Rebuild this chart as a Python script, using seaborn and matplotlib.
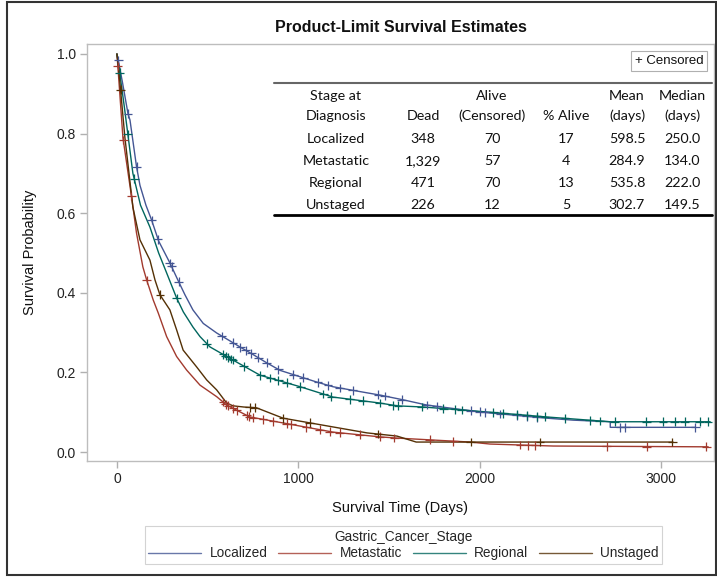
import numpy as np
import pandas as pd
import matplotlib
matplotlib.use("Agg")
import matplotlib.pyplot as plt
import seaborn as sns
from matplotlib.lines import Line2D
from matplotlib.patches import Rectangle

# ---------------- data ----------------
groups = ["Localized", "Metastatic", "Regional", "Unstaged"]
colors = ["#445694", "#A23A2E", "#01665E", "#543005"]

loc_t = [0, 7, 30, 61, 72, 108, 127, 160, 191, 230, 292, 336, 375, 419, 476, 550, 620, 678, 750,
         826, 900, 1010, 1100, 1191, 1300, 1450, 1579, 1708, 1910, 2057, 2370, 2516, 2720, 2720, 3188]
loc_s = [1.0, 0.985, 0.93, 0.85, 0.834, 0.717, 0.67, 0.62, 0.583, 0.53, 0.475, 0.432, 0.395, 0.357,
         0.323, 0.299, 0.28, 0.264, 0.245, 0.224, 0.205, 0.189, 0.176, 0.164, 0.155, 0.143, 0.131,
         0.118, 0.106, 0.098, 0.085, 0.080, 0.076, 0.062, 0.062]

met_t = [0, 5, 33, 81, 108, 143, 164, 200, 228, 274, 329, 384, 458, 550, 605, 733, 916, 1191, 1450,
         1544, 1947, 2057, 2406, 3260]
met_s = [1.0, 0.97, 0.79, 0.64, 0.55, 0.465, 0.432, 0.382, 0.349, 0.29, 0.24, 0.206, 0.168, 0.139,
         0.118, 0.088, 0.073, 0.050, 0.038, 0.035, 0.025, 0.020, 0.015, 0.013]

reg_t = [0, 10, 40, 88, 130, 182, 230, 274, 329, 366, 419, 458, 513, 640, 789, 1010, 1191, 1450,
         1544, 1690, 2057, 2370, 2516, 2720, 3271]
reg_s = [1.0, 0.97, 0.87, 0.70, 0.62, 0.565, 0.50, 0.45, 0.387, 0.352, 0.314, 0.29, 0.264, 0.231,
         0.193, 0.164, 0.138, 0.123, 0.116, 0.113, 0.100, 0.088, 0.083, 0.076, 0.076]

uns_t = [0, 10, 44, 88, 127, 182, 210, 237, 292, 329, 365, 439, 495, 550, 605, 640, 700, 770, 916,
         1191, 1379, 1544, 1650, 3066]
uns_s = [1.0, 0.96, 0.79, 0.615, 0.533, 0.482, 0.432, 0.395, 0.357, 0.307, 0.256, 0.214, 0.181,
         0.156, 0.123, 0.116, 0.113, 0.111, 0.085, 0.063, 0.048, 0.040, 0.025, 0.025]

loc_cens = [7, 61, 108, 191, 227, 292, 301, 340, 577, 640, 680, 710, 740, 780, 826, 890, 972, 1027,
            1109, 1164, 1228, 1301, 1440, 1477, 1570, 1708, 1763, 1950, 2000, 2030, 2112, 2204,
            2259, 2314, 2775, 2802, 3188]
met_cens = [5, 35, 80, 164, 585, 600, 612, 640, 660, 715, 730, 750, 805, 860, 935, 962, 1045, 1118,
            1173, 1228, 1338, 1448, 1530, 1725, 1855, 2222, 2268, 2305, 2700, 2920, 3250]
reg_cens = [15, 60, 95, 329, 495, 585, 600, 612, 630, 640, 700, 790, 845, 890, 936, 1010, 1137,
            1182, 1283, 1356, 1448, 1521, 1550, 1680, 1800, 1864, 1900, 2076, 2130, 2204, 2259,
            2314, 2360, 2470, 2607, 2662, 2745, 2919, 3011, 3075, 3130, 3213, 3259]
uns_cens = [20, 237, 733, 760, 916, 1063, 1440, 1950, 2333, 3063]

dead = ["348", "1,329", "471", "226"]
alive_cens = ["70", "57", "70", "12"]
pct_alive = ["17", "4", "13", "5"]
mean_days = ["598.5", "284.9", "535.8", "302.7"]
median_days = ["250.0", "134.0", "222.0", "149.5"]

x_ticks = [0, 1000, 2000, 3000]
y_ticks = [0.0, 0.2, 0.4, 0.6, 0.8, 1.0]

# ---------------- frames ----------------
curve_data = [(loc_t, loc_s), (met_t, met_s), (reg_t, reg_s), (uns_t, uns_s)]
cens_data = [loc_cens, met_cens, reg_cens, uns_cens]

curves = pd.concat(
    [pd.DataFrame({"time": t, "surv": s, "stage": g}) for g, (t, s) in zip(groups, curve_data)],
    ignore_index=True)
cens = pd.concat(
    [pd.DataFrame({"time": c, "surv": np.interp(c, t, s), "stage": g})
     for g, (t, s), c in zip(groups, curve_data, cens_data)],
    ignore_index=True)
pal = dict(zip(groups, colors))

# ---------------- plot ----------------
sns.set_theme(style="white")
plt.rcParams["font.family"] = ["Liberation Sans", "DejaVu Sans"]

W, H = 717, 577
fig = plt.figure(figsize=(W / 100, H / 100), dpi=100)
ax = fig.add_axes([87 / W, 1 - 461 / H, (714 - 87) / W, (461 - 44) / H])

sns.lineplot(data=curves, x="time", y="surv", hue="stage", palette=pal, estimator=None,
             sort=False, lw=1.0, legend=False, ax=ax)
sns.scatterplot(data=cens, x="time", y="surv", hue="stage", palette=pal, marker="+", s=40,
                linewidth=0.9, legend=False, ax=ax, zorder=3)

ax.set_xlim(-165, 3292)
ax.set_ylim(-0.0226, 1.025)
ax.set_xticks(x_ticks)
ax.set_yticks(y_ticks)
ax.set_xticklabels([str(v) for v in x_ticks])
ax.set_yticklabels([f"{v:.1f}" for v in y_ticks])
ax.set_xlabel("")
ax.set_ylabel("")
for sp in ax.spines.values():
    sp.set_color("#bdbdbd")
    sp.set_linewidth(1.0)
ax.tick_params(bottom=True, left=True, direction="out", length=5, width=1, color="#b0b0b0",
               labelsize=10, labelcolor="#222222", pad=3)

def fx(px):
    return px / W

def fy(py):
    return 1 - py / H

fig.text(fx(401), fy(28), "Product-Limit Survival Estimates", ha="center", va="center",
         fontsize=11.5, fontweight="bold", color="#111111")
fig.text(fx(30), fy(252), "Survival Probability", ha="center", va="center", rotation=90,
         fontsize=10.5, color="#111111")
fig.text(fx(400), fy(508), "Survival Time (Days)", ha="center", va="center",
         fontsize=10.5, color="#111111")

# censored box
fig.text(fx(669), fy(61), "+ Censored", ha="center", va="center", fontsize=9.5, color="#111111",
         bbox=dict(boxstyle="square,pad=0.3", fc="white", ec="#b0b0b0", lw=0.8))

# inset table
tfont = dict(family=["Lato", "DejaVu Sans"], fontsize=10.3, color="#111111", ha="center",
             va="center")
col_x = [336, 423, 492, 566, 627, 682]
fig.text(fx(col_x[0]), fy(96), "Stage at", **tfont)
fig.text(fx(col_x[0]), fy(116), "Diagnosis", **tfont)
fig.text(fx(col_x[1]), fy(116), "Dead", **tfont)
fig.text(fx(col_x[2]), fy(96), "Alive", **tfont)
fig.text(fx(col_x[2]), fy(116), "(Censored)", **tfont)
fig.text(fx(col_x[3]), fy(116), "% Alive", **tfont)
fig.text(fx(col_x[4]), fy(96), "Mean", **tfont)
fig.text(fx(col_x[4]), fy(116), "(days)", **tfont)
fig.text(fx(col_x[5]), fy(96), "Median", **tfont)
fig.text(fx(col_x[5]), fy(116), "(days)", **tfont)
row_y = [139, 161, 183, 205]
for i, g in enumerate(groups):
    vals = [g, dead[i], alive_cens[i], pct_alive[i], mean_days[i], median_days[i]]
    for cx, v in zip(col_x, vals):
        fig.text(fx(cx), fy(row_y[i]), v, **tfont)
fig.add_artist(Line2D([fx(274), fx(712)], [fy(83), fy(83)], color="#666666", lw=1.5))
fig.add_artist(Line2D([fx(274), fx(712)], [fy(215), fy(215)], color="#000000", lw=2.0))

# legend
handles = [Line2D([0], [0], color=c, lw=1.0, alpha=0.8) for c in colors]
leg = fig.legend(handles, groups, loc="center", bbox_to_anchor=(fx(403.5), fy(545)), ncol=4,
                 title="Gastric_Cancer_Stage", frameon=True, fancybox=False, fontsize=9.8,
                 title_fontsize=9.8, handlelength=3.9, columnspacing=0.8, handletextpad=0.6,
                 borderpad=0.25, labelspacing=0.2, borderaxespad=0)
leg.get_frame().set_edgecolor("#c8c8c8")
leg.get_frame().set_linewidth(0.8)

# outer border
fig.add_artist(Rectangle((fx(7), fy(575)), (716 - 7) / W, (575 - 2) / H, transform=fig.transFigure,
                         fill=False, ec="#333333", lw=1.5))

fig.savefig("out.png", dpi=100)
